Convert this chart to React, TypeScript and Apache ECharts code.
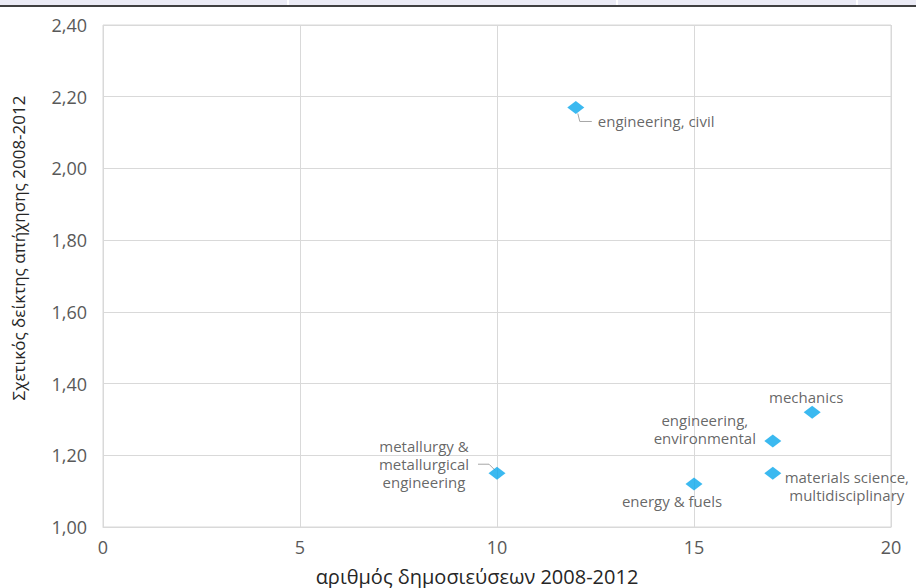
import React, { useEffect, useRef } from "react";
import * as echarts from "echarts";

const names = [
  "engineering, civil",
  "mechanics",
  "engineering,\nenvironmental",
  "materials science,\nmultidisciplinary",
  "energy & fuels",
  "metallurgy &\nmetallurgical\nengineering",
];
const publications = [12, 18, 17, 17, 15, 10];
const citationIndex = [2.17, 1.32, 1.24, 1.15, 1.12, 1.15];

const xTicks = [0, 5, 10, 15, 20];
const yTicks = [1.0, 1.2, 1.4, 1.6, 1.8, 2.0, 2.2, 2.4];

const xTitle = "αριθμός δημοσιεύσεων 2008-2012";
const yTitle = "Σχετικός δείκτης απήχησης 2008-2012";

// label placement (style only)
const labelStyles: any[] = [
  { align: "left", offset: [22, 14] },
  { align: "center", offset: [-6, -15] },
  { align: "center", offset: [-68, -12] },
  { align: "center", offset: [74, 13] },
  { align: "center", offset: [-22, 17] },
  { align: "center", offset: [-73, -9] },
];

const FONT = "'Open Sans', 'Noto Sans', sans-serif";

export default function App() {
  const ref = useRef<HTMLDivElement>(null);
  useEffect(() => {
    document.body.style.margin = "0";
    const chart = echarts.init(ref.current!, null, { renderer: "svg" });
    const grid = { left: 103, right: 25, top: 25, bottom: 61 };
    const option: any = {
      animation: false,
      backgroundColor: "#ffffff",
      grid: { ...grid, show: true, borderColor: "#d9d9d9", borderWidth: 1 },
      xAxis: {
        type: "value",
        min: xTicks[0],
        max: xTicks[xTicks.length - 1],
        interval: 5,
        axisLine: { show: true, lineStyle: { color: "#d9d9d9" } },
        axisTick: { show: false },
        splitLine: { show: true, lineStyle: { color: "#d9d9d9" } },
        axisLabel: { color: "#595959", fontSize: 18, fontFamily: FONT, margin: 11 },
      },
      yAxis: {
        type: "value",
        min: yTicks[0],
        max: yTicks[yTicks.length - 1],
        interval: 0.2,
        axisLine: { show: false },
        axisTick: { show: false },
        splitLine: { show: true, lineStyle: { color: "#d9d9d9" } },
        axisLabel: {
          color: "#595959",
          fontSize: 18,
          fontFamily: FONT,
          margin: 16,
          formatter: (v: number) => v.toFixed(2).replace(".", ","),
        },
      },
      series: [
        {
          type: "scatter",
          symbol: "diamond",
          symbolSize: [17, 13],
          itemStyle: { color: "#0aa8ec" },
          data: publications.map((x, i) => ({
            value: [x, citationIndex[i]],
            name: names[i],
            label: {
              show: true,
              position: "inside",
              formatter: "{b}",
              color: "#404040",
              fontSize: 15,
              fontFamily: FONT,
              lineHeight: 18,
              verticalAlign: "middle",
              align: labelStyles[i].align,
              offset: labelStyles[i].offset,
            },
          })),
        },
      ],
    };
    chart.setOption(option);

    const p0 = chart.convertToPixel({ seriesIndex: 0 }, [publications[0], citationIndex[0]]) as number[];
    const p5 = chart.convertToPixel({ seriesIndex: 0 }, [publications[5], citationIndex[5]]) as number[];

    chart.setOption({
      graphic: [
        { type: "rect", shape: { x: 0, y: 0, width: 916, height: 5 }, style: { fill: "#ebebf5" } },
        { type: "rect", shape: { x: 287, y: 0, width: 2, height: 5 }, style: { fill: "#ffffff" } },
        { type: "rect", shape: { x: 616, y: 0, width: 2, height: 5 }, style: { fill: "#ffffff" } },
        { type: "rect", shape: { x: 856, y: 0, width: 2, height: 5 }, style: { fill: "#ffffff" } },
        { type: "line", shape: { x1: 0, y1: 6, x2: 916, y2: 6 }, style: { stroke: "#000000", lineWidth: 1.5 } },
        {
          type: "polyline",
          shape: { points: [[p0[0] + 2, p0[1] + 6], [p0[0] + 4, p0[1] + 14], [p0[0] + 16, p0[1] + 14]] },
          style: { stroke: "#a6a6a6", lineWidth: 1, fill: "none" },
        },
        {
          type: "polyline",
          shape: { points: [[p5[0] - 19, p5[1] - 9], [p5[0] - 8, p5[1] - 9], [p5[0] - 2, p5[1] - 3]] },
          style: { stroke: "#a6a6a6", lineWidth: 1, fill: "none" },
        },
        {
          type: "text",
          x: 477,
          y: 576,
          style: {
            text: xTitle,
            fill: "#262626",
            fontSize: 20,
            lineHeight: 20,
            fontFamily: FONT,
            align: "center",
            verticalAlign: "middle",
          },
        },
        {
          type: "text",
          x: 18,
          y: 248,
          rotation: Math.PI / 2,
          style: {
            text: yTitle,
            fill: "#262626",
            fontSize: 17,
            fontFamily: FONT,
            align: "center",
            verticalAlign: "middle",
          },
        },
      ],
    });

    return () => chart.dispose();
  }, []);
  return <div ref={ref} style={{ width: 916, height: 588 }} />;
}
